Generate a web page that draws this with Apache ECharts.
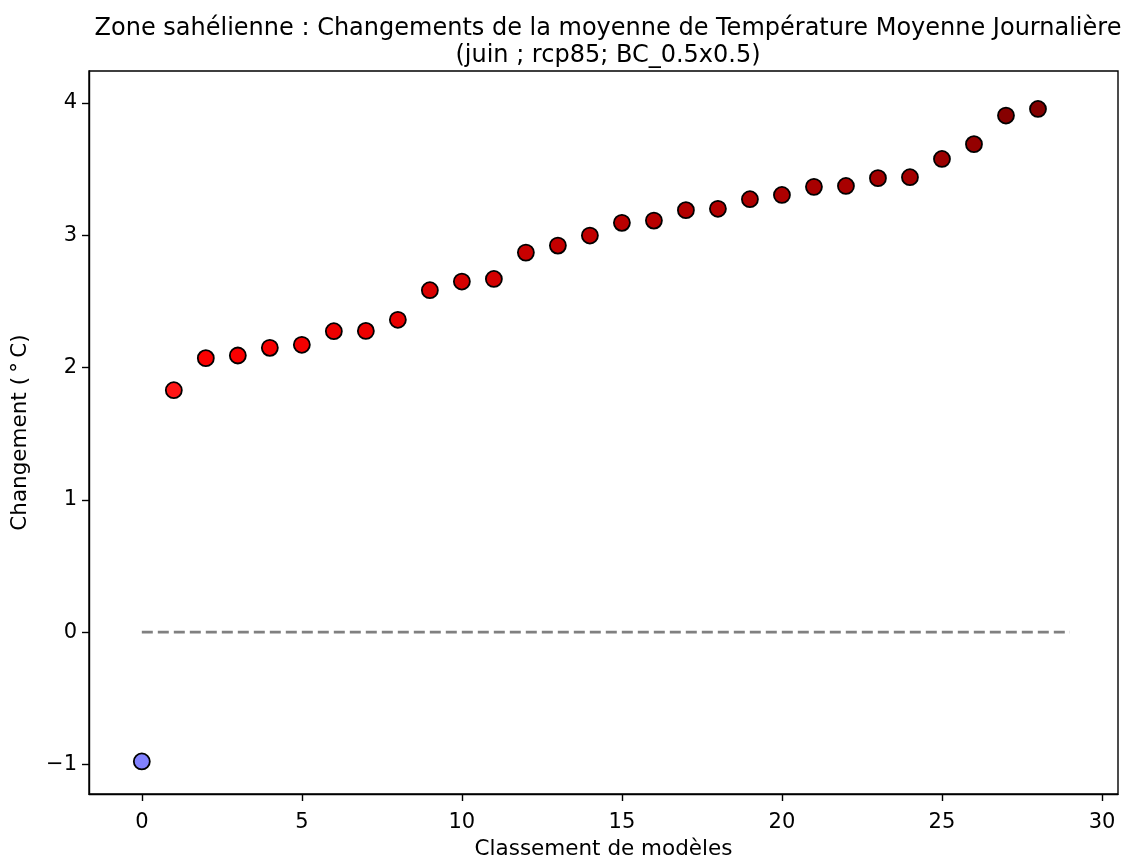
<!DOCTYPE html>
<html>
<head>
<meta charset="utf-8">
<script src="https://cdn.jsdelivr.net/npm/echarts@6/dist/echarts.min.js"></script>
<style>html,body{margin:0;padding:0;background:#fff}#c{width:1122px;height:859px}</style>
</head>
<body>
<div id="c"></div>
<script>
const ranks = [0,1,2,3,4,5,6,7,8,9,10,11,12,13,14,15,16,17,18,19,20,21,22,23,24,25,26,27,28];
const changes = [-0.978,1.829,2.071,2.091,2.149,2.172,2.275,2.277,2.361,2.585,2.650,2.670,2.869,2.922,2.998,3.094,3.111,3.190,3.200,3.273,3.305,3.366,3.373,3.432,3.439,3.577,3.689,3.905,3.955];
const zeroLineX = [0, 29];
const xTicks = [0,5,10,15,20,25,30];
const yTicks = [-1,0,1,2,3,4];
const titleLines = ["Zone sahélienne : Changements de la moyenne de Température Moyenne Journalière", "(juin ; rcp85; BC_0.5x0.5)"];
const xName = "Classement de modèles";
const yName = "Changement (\u2009°\u2009C)";

const FONT = "DejaVu Sans";
const fmt = v => String(v).replace('-', '\u2212');
const chart = echarts.init(document.getElementById('c'), null, {renderer: 'canvas'});
chart.setOption({
  animation: false,
  backgroundColor: '#ffffff',
  title: {
    text: titleLines.join('\n'),
    left: 603, top: 10, textAlign: 'center',
    textStyle: {fontFamily: FONT, fontSize: 24, fontWeight: 'normal', color: '#000', lineHeight: 27}
  },
  grid: {left: 89, right: 4, top: 71, bottom: 65, show: true, containLabel: false, outerBoundsMode: 'none',
    borderColor: '#000', borderWidth: 1.4, backgroundColor: 'transparent'},
  visualMap: {show: false, type: 'continuous', min: -4, max: 4, dimension: 1, seriesIndex: 1,
    inRange: {color: ['#00004c', '#0000ff', '#ffffff', '#ff0000', '#800000']}},
  xAxis: {
    type: 'value', min: -1.65, max: 30.5,
    name: xName, nameLocation: 'middle', nameGap: 44,
    nameTextStyle: {fontFamily: FONT, fontSize: 21.5, color: '#000'},
    axisLine: {show: true, onZero: false, lineStyle: {color: '#000', width: 1.4}},
    axisTick: {show: true, customValues: xTicks, length: 7, lineStyle: {color: '#000', width: 1.4}},
    axisLabel: {customValues: xTicks, margin: 18, fontFamily: FONT, fontSize: 21, color: '#000', formatter: fmt},
    splitLine: {show: false}
  },
  yAxis: {
    type: 'value', min: -1.224, max: 4.242,
    name: yName, nameLocation: 'middle', nameGap: 58, nameRotate: 90,
    nameTextStyle: {fontFamily: FONT, fontSize: 21.5, color: '#000'},
    axisLine: {show: true, onZero: false, lineStyle: {color: '#000', width: 1.4}},
    axisTick: {show: true, customValues: yTicks, length: 7, lineStyle: {color: '#000', width: 1.4}},
    axisLabel: {customValues: yTicks, margin: 12, fontFamily: FONT, fontSize: 21, color: '#000', formatter: fmt},
    splitLine: {show: false}
  },
  series: [
    {
      type: 'line', data: zeroLineX.map(x => [x, 0]), symbol: 'none', silent: true,
      lineStyle: {color: '#808080', width: 2.8, type: [11, 5]}, z: 1
    },
    {
      type: 'scatter', data: ranks.map((r, i) => [r, changes[i]]),
      symbol: 'circle', symbolSize: 16,
      itemStyle: {borderColor: '#000', borderWidth: 1.8, opacity: 1}, z: 3
    }
  ]
});
</script>
</body>
</html>
